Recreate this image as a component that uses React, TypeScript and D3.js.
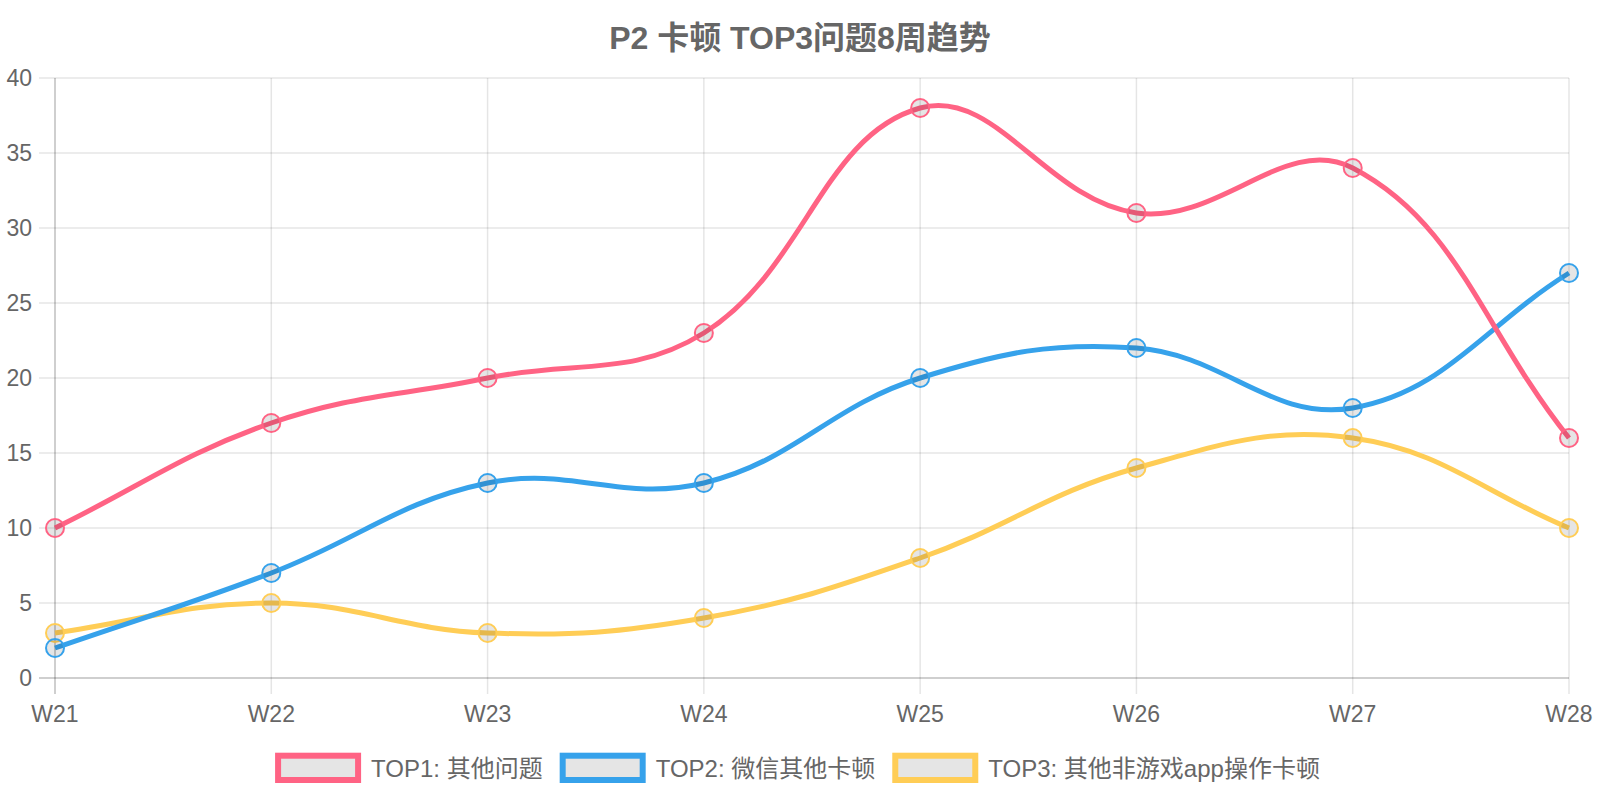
import React, { useEffect, useRef } from "react";
import * as d3 from "d3";

const weeks = ["W21", "W22", "W23", "W24", "W25", "W26", "W27", "W28"];
const top1Values = [10, 17, 20, 23, 38, 31, 34, 16];
const top2Values = [2, 7, 13, 13, 20, 22, 18, 27];
const top3Values = [3, 5, 3, 4, 8, 14, 16, 10];
const seriesNames = ["TOP1: 其他问题", "TOP2: 微信其他卡顿", "TOP3: 其他非游戏app操作卡顿"];
const seriesColors = ["#ff6384", "#36a2eb", "#ffcd56"];
const yTicks = [0, 5, 10, 15, 20, 25, 30, 35, 40];
const titleText = "P2 卡顿 TOP3问题8周趋势";

const FONT = "'Liberation Sans', Arial, 'Noto Sans CJK SC', sans-serif";

type P = { x: number; y: number };

function splinePath(pts: P[], t: number, area: { l: number; r: number; t: number; b: number }) {
  const cps = pts.map((curr, i) => {
    const prev = i === 0 ? curr : pts[i - 1];
    const next = i === pts.length - 1 ? curr : pts[i + 1];
    const d01 = Math.hypot(curr.x - prev.x, curr.y - prev.y);
    const d12 = Math.hypot(next.x - curr.x, next.y - curr.y);
    let s01 = d01 / (d01 + d12);
    let s12 = d12 / (d01 + d12);
    s01 = isNaN(s01) ? 0 : s01;
    s12 = isNaN(s12) ? 0 : s12;
    const fa = t * s01;
    const fb = t * s12;
    const clamp = (p: P) => ({
      x: Math.max(area.l, Math.min(area.r, p.x)),
      y: Math.max(area.t, Math.min(area.b, p.y)),
    });
    return {
      prev: clamp({ x: curr.x - fa * (next.x - prev.x), y: curr.y - fa * (next.y - prev.y) }),
      next: clamp({ x: curr.x + fb * (next.x - prev.x), y: curr.y + fb * (next.y - prev.y) }),
    };
  });
  const path = d3.path();
  path.moveTo(pts[0].x, pts[0].y);
  for (let i = 1; i < pts.length; i++) {
    path.bezierCurveTo(cps[i - 1].next.x, cps[i - 1].next.y, cps[i].prev.x, cps[i].prev.y, pts[i].x, pts[i].y);
  }
  return path.toString();
}

export default function App() {
  const ref = useRef<SVGSVGElement>(null);

  useEffect(() => {
    document.body.style.margin = "0";
    const svg = d3.select(ref.current);
    svg.selectAll("*").remove();

    const left = 55, right = 1569, top = 78, bottom = 678;
    const x = d3.scalePoint<string>().domain(weeks).range([left, right]);
    const y = d3.scaleLinear().domain([0, 40]).range([bottom, top]);

    // title
    svg.append("text")
      .attr("x", 800).attr("y", 48.5)
      .attr("text-anchor", "middle")
      .attr("font-family", FONT).attr("font-size", 32).attr("font-weight", "bold")
      .attr("fill", "#666")
      .text(titleText);

    // grid and ticks
    const g = svg.append("g");
    yTicks.forEach((v) => {
      g.append("line")
        .attr("x1", 39).attr("x2", right)
        .attr("y1", y(v)).attr("y2", y(v))
        .attr("stroke", v === 0 ? "rgba(0,0,0,0.25)" : "rgba(0,0,0,0.1)")
        .attr("stroke-width", 1.5);
      g.append("text")
        .attr("x", 32).attr("y", y(v) + 8.3)
        .attr("text-anchor", "end")
        .attr("font-family", FONT).attr("font-size", 23)
        .attr("fill", "#666")
        .text(String(v));
    });
    weeks.forEach((w, i) => {
      g.append("line")
        .attr("x1", x(w)!).attr("x2", x(w)!)
        .attr("y1", top).attr("y2", bottom + 16)
        .attr("stroke", i === 0 ? "rgba(0,0,0,0.25)" : "rgba(0,0,0,0.1)")
        .attr("stroke-width", 1.5);
      g.append("text")
        .attr("x", x(w)!).attr("y", 721.7)
        .attr("text-anchor", "middle")
        .attr("font-family", FONT).attr("font-size", 23)
        .attr("fill", "#666")
        .text(w);
    });

    const data = [top1Values, top2Values, top3Values];
    const area = { l: left, r: right, t: top, b: bottom };
    for (let s = data.length - 1; s >= 0; s--) {
      const pts = data[s].map((v, i) => ({ x: x(weeks[i])!, y: y(v) }));
      const sg = svg.append("g");
      sg.append("path")
        .attr("d", splinePath(pts, 0.4, area))
        .attr("fill", "none")
        .attr("stroke", seriesColors[s])
        .attr("stroke-width", 5)
        .attr("stroke-linejoin", "round");
      sg.selectAll("circle")
        .data(pts)
        .enter()
        .append("circle")
        .attr("cx", (d) => d.x).attr("cy", (d) => d.y)
        .attr("r", 9)
        .attr("fill", "rgba(0,0,0,0.1)")
        .attr("stroke", seriesColors[s])
        .attr("stroke-width", 2);
    }

    // legend
    const lg = svg.append("g");
    const items = seriesNames.map((name, i) => {
      const it = lg.append("g");
      it.append("rect")
        .attr("x", 3).attr("y", 755.7).attr("width", 80).attr("height", 24.3)
        .attr("fill", "rgba(0,0,0,0.1)")
        .attr("stroke", seriesColors[i]).attr("stroke-width", 6);
      const tx = it.append("text")
        .attr("x", 96).attr("y", 776.5)
        .attr("font-family", FONT).attr("font-size", 24)
        .attr("fill", "#666")
        .text(name);
      const w = (tx.node() as SVGTextElement).getComputedTextLength();
      return { it, width: 96 + w };
    });
    const gap = 17;
    const total = items.reduce((a, b) => a + b.width, 0) + gap * (items.length - 1);
    let cx = 797.5 - total / 2;
    items.forEach((o) => {
      o.it.attr("transform", `translate(${cx},0)`);
      cx += o.width + gap;
    });
  }, []);

  return <svg ref={ref} width={1600} height={800} style={{ display: "block" }} />;
}
